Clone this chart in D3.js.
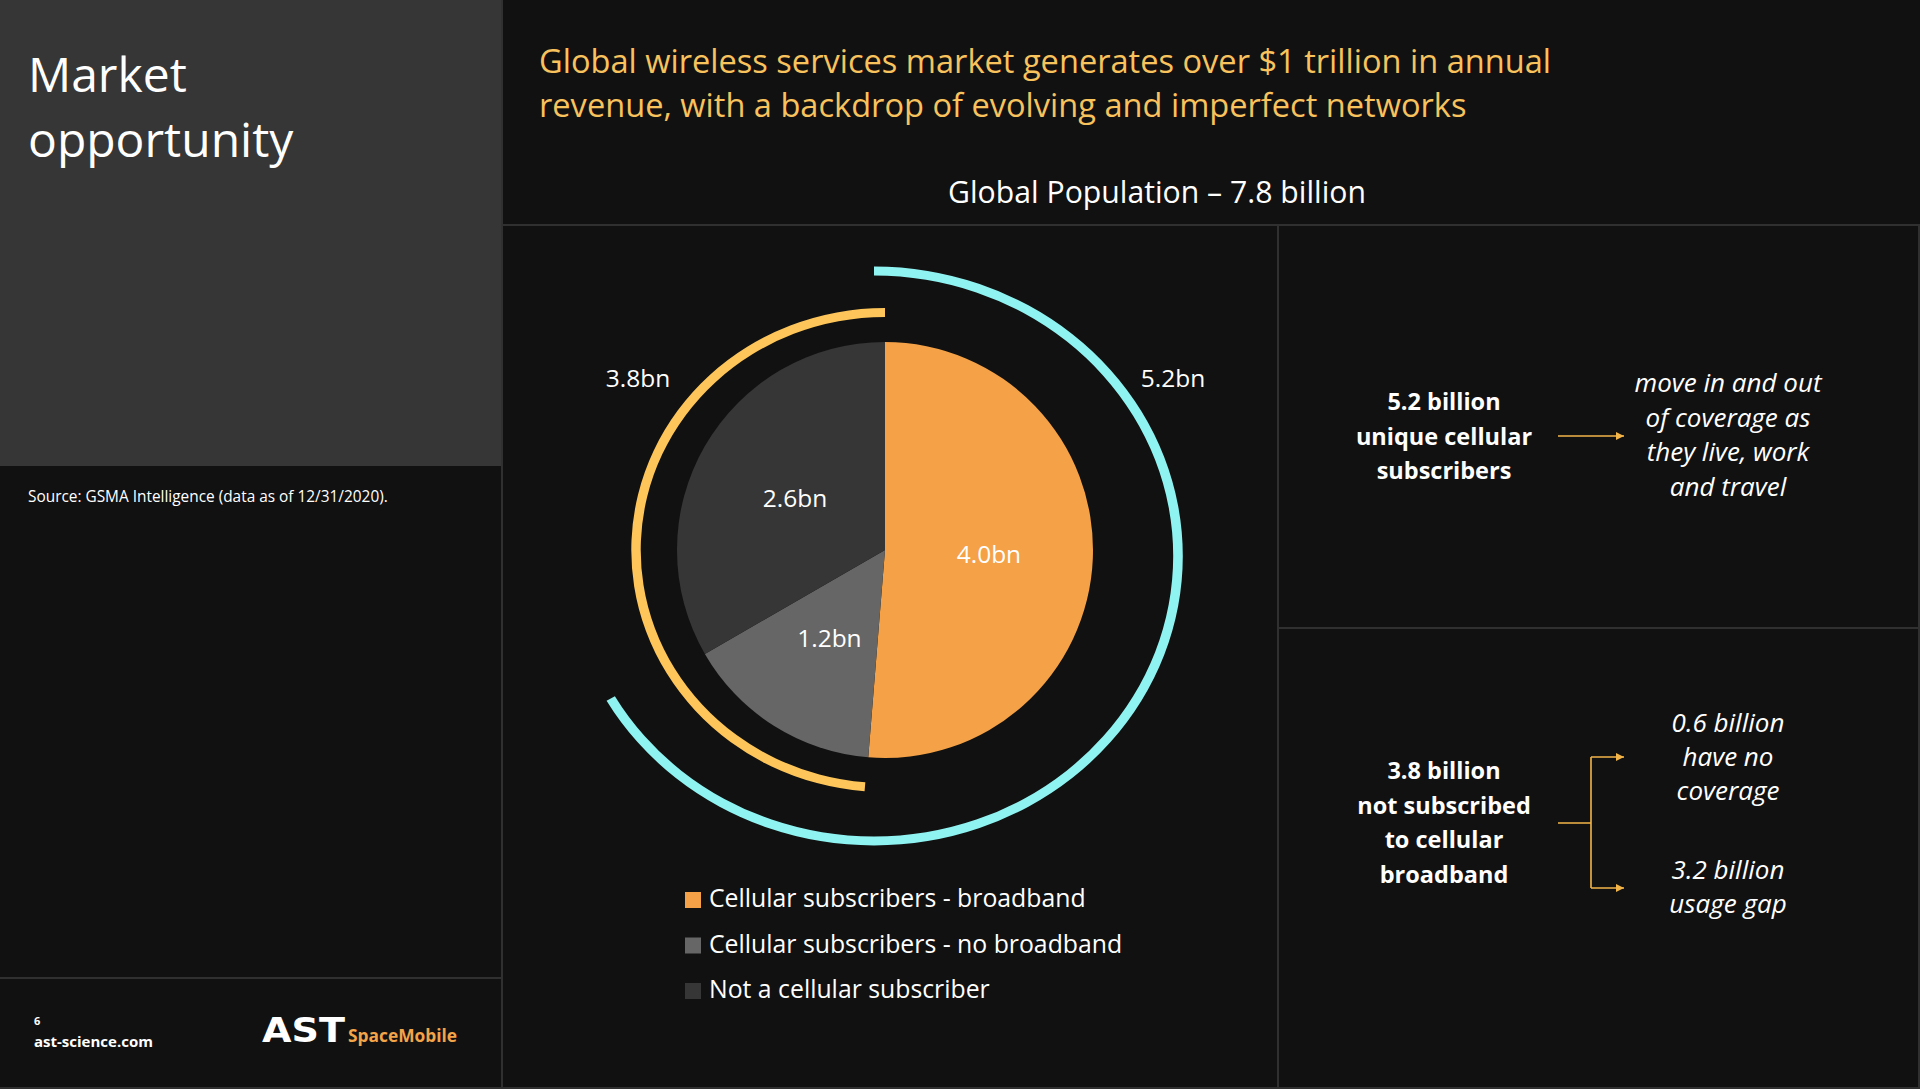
<!DOCTYPE html>
<html>
<head>
<meta charset="utf-8">
<script src="https://d3js.org/d3.v7.min.js"></script>
<style>
  body { margin: 0; background: #111111; }
  svg { display: block; }
  text { font-family: "Open Sans", "Noto Sans", sans-serif; fill: #ffffff; }
</style>
</head>
<body>
<script>
  // data (billions of people)
  var segments = ["Cellular subscribers - broadband", "Cellular subscribers - no broadband", "Not a cellular subscriber"];
  var segmentValues = [4.0, 1.2, 2.6];
  var segmentLabels = ["4.0bn", "1.2bn", "2.6bn"];
  var segmentColors = ["#f4a147", "#666666", "#363636"];

  // outer rings span groups of segments
  var ringMembers = [[0, 1], [1, 2]];
  var ringLabels = ["5.2bn", "3.8bn"];
  var ringColors = ["#8ff3f2", "#fdc55a"];

  var headline = ["Global wireless services market generates over $1 trillion in annual",
                  "revenue, with a backdrop of evolving and imperfect networks"];
  var subscribedText = ["5.2 billion", "unique cellular", "subscribers"];
  var subscribedNote = ["move in and out", "of coverage as", "they live, work", "and travel"];
  var notSubscribedText = ["3.8 billion", "not subscribed", "to cellular", "broadband"];
  var gapNotes = [["0.6 billion", "have no", "coverage"], ["3.2 billion", "usage gap"]];

  var W = 1920, H = 1089;
  var gold = "#f3b548";
  var lineCol = "#303030";

  var svg = d3.select("body").append("svg")
    .attr("width", W)
    .attr("height", H);

  svg.append("rect").attr("width", W).attr("height", H).attr("fill", "#111111");

  // left panel
  svg.append("rect").attr("x", 0).attr("y", 0).attr("width", 502).attr("height", 466).attr("fill", "#363636");

  // grid lines
  var gridLines = [
    [502, 0, 502, H], [502, 225, W, 225], [1278, 225, 1278, H], [1278, 628, W, 628],
    [0, 978, 502, 978], [0, H - 1, W, H - 1], [W - 1, 225, W - 1, H]
  ];
  svg.selectAll("line.grid")
    .data(gridLines)
    .enter()
    .append("line")
    .attr("class", "grid")
    .attr("x1", d => d[0]).attr("y1", d => d[1])
    .attr("x2", d => d[2]).attr("y2", d => d[3])
    .attr("stroke", lineCol)
    .attr("stroke-width", 2);

  // titles
  svg.append("text").attr("x", 28).attr("y", 92).attr("font-size", 48).text("Market");
  svg.append("text").attr("x", 28).attr("y", 157).attr("font-size", 48).text("opportunity");

  svg.selectAll("text.headline")
    .data(headline)
    .enter()
    .append("text")
    .attr("class", "headline")
    .attr("x", 539)
    .attr("y", (d, i) => 73 + i * 44)
    .attr("font-size", 32.6)
    .style("fill", "#f8c25d")
    .text(d => d);

  svg.append("text").attr("x", 1157).attr("y", 203).attr("font-size", 30.2)
    .attr("text-anchor", "middle").text("Global Population \u2013 7.8 billion");

  svg.append("text").attr("x", 28).attr("y", 502).attr("font-size", 15.4)
    .text("Source: GSMA Intelligence (data as of 12/31/2020).");

  // pie
  var cx = 885, cy = 550, R = 208;
  var pie = d3.pie().sort(null).value(d => d);
  var arcs = pie(segmentValues);
  var arc = d3.arc().innerRadius(0).outerRadius(R);

  var g = svg.append("g").attr("transform", "translate(" + cx + "," + cy + ")");
  g.selectAll("path.slice")
    .data(arcs)
    .enter()
    .append("path")
    .attr("class", "slice")
    .attr("d", arc)
    .attr("fill", (d, i) => segmentColors[i]);

  g.selectAll("text.slice")
    .data(arcs)
    .enter()
    .append("text")
    .attr("class", "slice")
    .attr("transform", d => "translate(" + arc.centroid(d) + ")")
    .attr("dy", "0.36em")
    .attr("text-anchor", "middle")
    .attr("font-size", 24.5)
    .text((d, i) => segmentLabels[i]);

  // outer rings (slightly elliptical on the slide)
  var ringGeom = [
    { x: 874, y: 556, r: 285, sx: 304 / 285, label: [1173, 387] },
    { x: 885, y: 550, r: 237.5, sx: 249 / 237.5, label: [638, 387] }
  ];
  ringMembers.forEach(function(m, i) {
    var geo = ringGeom[i];
    var ringArc = d3.arc()
      .innerRadius(geo.r - 4.5)
      .outerRadius(geo.r + 4.5)
      .startAngle(arcs[m[0]].startAngle)
      .endAngle(arcs[m[m.length - 1]].endAngle);
    svg.append("path")
      .attr("transform", "translate(" + geo.x + "," + geo.y + ") scale(" + geo.sx + ",1)")
      .attr("d", ringArc())
      .attr("fill", ringColors[i]);
    svg.append("text")
      .attr("x", geo.label[0]).attr("y", geo.label[1])
      .attr("text-anchor", "middle")
      .attr("font-size", 24.5)
      .text(ringLabels[i]);
  });

  // legend
  var legend = svg.selectAll("g.legend")
    .data(segments)
    .enter()
    .append("g")
    .attr("class", "legend")
    .attr("transform", (d, i) => "translate(685," + (892 + i * 45.5) + ")");
  legend.append("rect").attr("width", 16).attr("height", 16).attr("fill", (d, i) => segmentColors[i]);
  legend.append("text").attr("x", 24).attr("y", 15).attr("font-size", 24.8).text(d => d);

  // right side annotations
  svg.append("defs").append("marker")
    .attr("id", "head")
    .attr("viewBox", "0 0 10 10")
    .attr("refX", 10).attr("refY", 5)
    .attr("markerWidth", 9).attr("markerHeight", 8)
    .attr("markerUnits", "userSpaceOnUse")
    .attr("orient", "auto")
    .append("path").attr("d", "M0,0L10,5L0,10Z").attr("fill", gold);

  function block(lines, x, y0, step, opts) {
    svg.selectAll(null)
      .data(lines)
      .enter()
      .append("text")
      .attr("x", x)
      .attr("y", (d, i) => y0 + i * step)
      .attr("text-anchor", "middle")
      .attr("font-size", opts.size)
      .attr("font-weight", opts.weight || 400)
      .attr("font-style", opts.style || "normal")
      .text(d => d);
  }

  block(subscribedText, 1444, 410, 34.5, { size: 23.5, weight: 700 });
  block(subscribedNote, 1728, 392, 34.5, { size: 26, style: "italic" });
  block(notSubscribedText, 1444, 779, 34.5, { size: 23.5, weight: 700 });
  block(gapNotes[0], 1728, 732, 34, { size: 26, style: "italic" });
  block(gapNotes[1], 1728, 879, 34, { size: 26, style: "italic" });

  svg.append("line")
    .attr("x1", 1558).attr("y1", 436).attr("x2", 1624).attr("y2", 436)
    .attr("stroke", gold).attr("stroke-width", 1.6)
    .attr("marker-end", "url(#head)");

  svg.append("path")
    .attr("d", "M1558,823H1591M1591,757V888")
    .attr("fill", "none")
    .attr("stroke", gold).attr("stroke-width", 1.6);
  [757, 888].forEach(function(y) {
    svg.append("line")
      .attr("x1", 1591).attr("y1", y).attr("x2", 1624).attr("y2", y)
      .attr("stroke", gold).attr("stroke-width", 1.6)
      .attr("marker-end", "url(#head)");
  });

  // footer
  svg.append("text").attr("x", 34).attr("y", 1025).attr("font-size", 11).attr("font-weight", 700).text("6");
  svg.append("text").attr("x", 34).attr("y", 1047).attr("font-size", 15).attr("font-weight", 700).text("ast-science.com");
  svg.append("text").attr("x", 262).attr("y", 1042).attr("font-size", 33)
    .style("font-family", "'DejaVu Sans', sans-serif").attr("font-weight", 700)
    .attr("textLength", 83).attr("lengthAdjust", "spacingAndGlyphs").text("AST");
  svg.append("text").attr("x", 348).attr("y", 1042).attr("font-size", 17).attr("font-weight", 700)
    .style("fill", "#f3a449").attr("textLength", 109).attr("lengthAdjust", "spacingAndGlyphs").text("SpaceMobile");
</script>
</body>
</html>
